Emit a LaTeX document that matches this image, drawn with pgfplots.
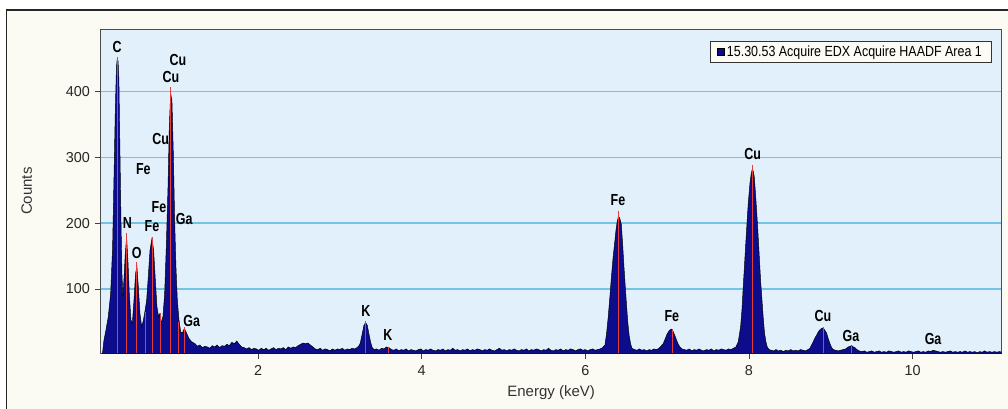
\documentclass[border=0pt]{standalone}
\usepackage{fontspec}
\setmainfont{Liberation Sans}
\newfontfamily\narrowfont[FakeStretch=0.85]{Liberation Sans}
\newfontfamily\peakfont[FakeStretch=0.78]{Liberation Sans}
\usepackage{pgfplots}
\pgfplotsset{compat=1.18}

\definecolor{navy}{RGB}{12,12,140}
\definecolor{plotbg}{RGB}{225,240,250}
\definecolor{framebg}{RGB}{251,251,244}
\definecolor{gridc}{RGB}{115,195,230}
\definecolor{redl}{RGB}{230,60,60}
\definecolor{legendbg}{RGB}{252,252,245}

\begin{document}
\begin{tikzpicture}
  % page = 1008x408 px at 0.75pt/px, axis box lower-left at origin
  \useasboundingbox (-75.5pt,-41pt) rectangle (680.5pt,265pt);
  \fill[white] (-75.5pt,-41pt) rectangle (680.5pt,265pt);
  \draw[fill=framebg, draw=black!85, line width=0.8pt] (-70.3pt,-44pt) rectangle (683.5pt,257.5pt);

  \begin{axis}[
    scale only axis,
    width=675.75pt,
    height=243.2pt,
    xmin=0.077, xmax=11.088,
    ymin=2.3, ymax=495,
    xtick={2,4,6,8,10},
    ytick={100,200,300,400},
    xtick pos=bottom, ytick pos=left,
    tick align=outside,
    major tick length=4.5pt,
    tick style={line width=0.7pt, black!75},
    axis line style={draw=black!70, line width=0.7pt},
    axis background/.style={fill=plotbg},
    ymajorgrids,
    major grid style={draw=gridc, line width=1.3pt},
    /pgf/number format/assume math mode=true,
    ticklabel style={font=\fontsize{10.8}{12}\selectfont, text=black!85},
    xticklabel style={yshift=-1pt},
    xlabel={Energy (keV)},
    ylabel={Counts},
    every axis x label/.style={at={(axis description cs:0.5,0)}, yshift=-29.8pt, anchor=center, font=\fontsize{11.25}{13}\selectfont, text=black!80},
    every axis y label/.style={at={(axis description cs:0,0.5)}, xshift=-55.5pt, rotate=90, anchor=center, font=\fontsize{11.25}{13}\selectfont, text=black!80},
    legend style={at={(axis description cs:1,1)}, anchor=north east, xshift=-7.5pt, yshift=-8.8pt,
      draw=black!80, fill=legendbg, line width=0.6pt, inner xsep=5pt, inner ysep=1.2pt,
      font=\narrowfont\fontsize{11}{12.5}\selectfont},
    legend cell align=left,
  ]
    \addplot[fill=navy, draw=black, line width=0.35pt,
      legend image code/.code={\draw[fill=navy,draw=black,line width=0.4pt] (2pt,-2.6pt) rectangle (7.2pt,2.6pt);}]
      coordinates {
      (0.095,0) (0.101,4) (0.117,22) (0.142,38) (0.170,58) (0.199,93) (0.223,164)
      (0.240,271) (0.256,372) (0.270,438) (0.280,450) (0.290,446) (0.300,418)
      (0.313,306) (0.325,205) (0.337,124) (0.349,88) (0.362,116) (0.378,154)
      (0.394,178) (0.410,144) (0.427,93) (0.447,53) (0.464,48) (0.484,83)
      (0.504,124) (0.520,134) (0.537,104) (0.557,63) (0.578,43) (0.598,52)
      (0.618,66) (0.639,83) (0.659,119) (0.680,159) (0.704,177) (0.724,159)
      (0.745,114) (0.765,73) (0.785,58) (0.802,63) (0.818,48) (0.838,58)
      (0.859,93) (0.879,164) (0.900,255) (0.916,347) (0.932,397) (0.948,387)
      (0.965,306) (0.981,205) (0.997,134) (1.014,83) (1.034,53) (1.055,35)
      (1.075,33) (1.099,40) (1.127,33) (1.156,25) (1.188,20) (1.229,17)
      (1.26,13) (1.29,15) (1.32,11) (1.35,13) (1.38,12) (1.41,10) (1.44,14)
      (1.47,12) (1.50,15) (1.53,11) (1.56,14) (1.59,13) (1.62,16) (1.65,14)
      (1.68,19) (1.71,17) (1.74,21) (1.77,16) (1.80,12) (1.83,11) (1.86,9)
      (1.89,11) (1.92,8) (1.95,10) (1.98,9) (2.01,7) (2.04,10) (2.07,8)
      (2.10,10) (2.13,7) (2.16,9) (2.19,11) (2.22,8) (2.25,10) (2.28,9)
      (2.31,11) (2.34,8) (2.37,12) (2.40,10) (2.43,12) (2.46,11) (2.49,14)
      (2.52,16) (2.55,18) (2.58,17) (2.61,18) (2.64,15) (2.67,12) (2.70,9)
      (2.73,8) (2.76,10) (2.79,7) (2.82,9) (2.85,8) (2.88,6) (2.91,9) (2.94,7)
      (2.97,9) (3.00,8) (3.03,10) (3.06,7) (3.09,9) (3.12,8) (3.15,10) (3.18,9)
      (3.21,11) (3.235,14) (3.25,18) (3.27,30) (3.295,45) (3.315,49) (3.335,45)
      (3.355,32) (3.375,20) (3.395,11) (3.42,8) (3.45,9) (3.48,7) (3.51,10)
      (3.54,9) (3.57,12) (3.60,11) (3.63,8) (3.66,7) (3.69,9) (3.72,6) (3.75,8)
      (3.78,7) (3.81,9) (3.84,6) (3.87,8) (3.90,7) (3.93,6) (3.96,8) (3.99,9)
      (4.02,6) (4.05,8) (4.08,7) (4.11,9) (4.14,7) (4.17,6) (4.20,8) (4.23,7)
      (4.26,9) (4.29,6) (4.32,8) (4.35,7) (4.38,10) (4.41,7) (4.44,8) (4.47,6)
      (4.50,8) (4.53,7) (4.56,9) (4.59,6) (4.62,8) (4.65,7) (4.68,9) (4.71,8)
      (4.74,6) (4.77,8) (4.80,7) (4.83,9) (4.86,7) (4.89,6) (4.92,8) (4.95,10)
      (4.98,7) (5.01,8) (5.04,6) (5.07,8) (5.10,7) (5.13,9) (5.16,7) (5.19,6)
      (5.22,8) (5.25,7) (5.28,9) (5.31,6) (5.34,8) (5.37,7) (5.40,9) (5.43,8)
      (5.46,6) (5.49,8) (5.52,7) (5.55,10) (5.58,7) (5.61,6) (5.64,8) (5.67,7)
      (5.70,9) (5.73,6) (5.76,8) (5.79,7) (5.82,9) (5.85,8) (5.88,6) (5.91,8)
      (5.94,9) (5.97,7) (6.00,8) (6.03,6) (6.06,8) (6.09,9) (6.12,7) (6.15,8)
      (6.18,9) (6.21,11) (6.24,15) (6.26,33) (6.28,58) (6.30,88) (6.32,120)
      (6.34,149) (6.36,172) (6.375,190) (6.39,203) (6.405,210) (6.42,208)
      (6.44,198) (6.455,170) (6.472,134) (6.49,100) (6.505,73) (6.52,48)
      (6.537,28) (6.555,16) (6.57,10) (6.60,8) (6.63,7) (6.66,9) (6.69,7)
      (6.72,8) (6.75,6) (6.78,8) (6.81,7) (6.84,9) (6.87,8) (6.90,10)
      (6.93,14) (6.952,17) (6.975,24) (6.994,30) (7.015,35) (7.034,38)
      (7.055,39) (7.075,35) (7.095,29) (7.116,22) (7.136,16) (7.156,12)
      (7.18,9) (7.21,8) (7.24,7) (7.27,9) (7.30,6) (7.33,8) (7.36,7) (7.39,9)
      (7.42,7) (7.45,6) (7.48,8) (7.51,7) (7.54,9) (7.57,6) (7.60,8) (7.63,7)
      (7.66,9) (7.69,8) (7.72,7) (7.75,9) (7.78,8) (7.81,10) (7.841,12)
      (7.869,20) (7.898,43) (7.915,70) (7.93,104) (7.947,140) (7.963,174)
      (7.977,203) (7.991,230) (8.012,261) (8.027,275) (8.04,282) (8.052,279)
      (8.064,271) (8.078,248) (8.093,220) (8.11,185) (8.126,149) (8.142,113)
      (8.159,83) (8.175,55) (8.19,33) (8.207,20) (8.223,12) (8.245,8)
      (8.27,7) (8.30,6) (8.33,8) (8.36,6) (8.39,7) (8.42,5) (8.45,7) (8.48,6)
      (8.51,8) (8.54,6) (8.57,7) (8.60,6) (8.63,8) (8.66,7) (8.69,6) (8.72,8)
      (8.745,10) (8.765,15) (8.786,20) (8.807,26) (8.827,30) (8.847,35)
      (8.867,38) (8.887,40) (8.907,41) (8.928,37) (8.949,33) (8.97,24)
      (8.99,17) (9.01,11) (9.03,8) (9.06,7) (9.09,6) (9.12,7) (9.15,8)
      (9.18,9) (9.213,12) (9.235,13) (9.255,14) (9.275,12) (9.295,11)
      (9.32,8) (9.347,6) (9.38,5) (9.41,6) (9.44,4) (9.47,5) (9.50,6) (9.53,4)
      (9.56,5) (9.59,6) (9.62,4) (9.65,5) (9.68,4) (9.71,6) (9.74,5) (9.77,4)
      (9.80,5) (9.83,6) (9.86,4) (9.89,5) (9.92,4) (9.95,6) (9.98,5) (10.01,4)
      (10.04,5) (10.07,6) (10.10,4) (10.13,5) (10.16,4) (10.19,6) (10.22,5)
      (10.25,7) (10.28,6) (10.31,5) (10.34,4) (10.37,5) (10.40,4) (10.43,5)
      (10.46,6) (10.49,4) (10.52,5) (10.55,4) (10.58,5) (10.61,4) (10.64,6)
      (10.67,4) (10.70,5) (10.73,4) (10.76,5) (10.79,3) (10.82,5) (10.85,4)
      (10.88,6) (10.91,4) (10.94,5) (10.97,4) (11.00,5) (11.03,4) (11.06,5)
      (11.09,4) (11.12,5)
      } \closedcycle;
    \addlegendentry{15.30.53 Acquire EDX Acquire HAADF Area 1}

    % element marker lines
    \addplot[ycomb, draw=redl, line width=0.6pt, forget plot] coordinates {
      (0.282,452) (0.394,185) (0.517,141) (0.618,65) (0.708,179) (0.812,63)
      (0.932,407) (1.032,50) (1.099,43) (3.314,52) (3.590,12)
      (6.404,219) (7.058,40) (8.046,288) (8.905,43) (9.251,14)
    };

    \tikzset{lab/.style={font=\peakfont\bfseries\fontsize{12}{13}\selectfont, text=black, inner sep=0pt}}
    \node[lab] at (axis cs:0.277,468) {C};
    \node[lab] at (axis cs:1.022,448) {Cu};
    \node[lab] at (axis cs:0.936,422) {Cu};
    \node[lab] at (axis cs:0.810,328) {Cu};
    \node[lab] at (axis cs:0.598,283) {Fe};
    \node[lab] at (axis cs:0.789,225) {Fe};
    \node[lab] at (axis cs:0.402,200) {N};
    \node[lab] at (axis cs:0.704,196) {Fe};
    \node[lab] at (axis cs:1.099,206) {Ga};
    \node[lab] at (axis cs:0.517,155) {O};
    \node[lab] at (axis cs:1.189,51) {Ga};
    \node[lab] at (axis cs:3.319,67) {K};
    \node[lab] at (axis cs:3.588,30) {K};
    \node[lab] at (axis cs:6.399,235) {Fe};
    \node[lab] at (axis cs:7.058,59) {Fe};
    \node[lab] at (axis cs:8.045,305) {Cu};
    \node[lab] at (axis cs:8.904,59) {Cu};
    \node[lab] at (axis cs:9.246,29) {Ga};
    \node[lab] at (axis cs:10.25,24) {Ga};
  \end{axis}
\end{tikzpicture}
\end{document}
